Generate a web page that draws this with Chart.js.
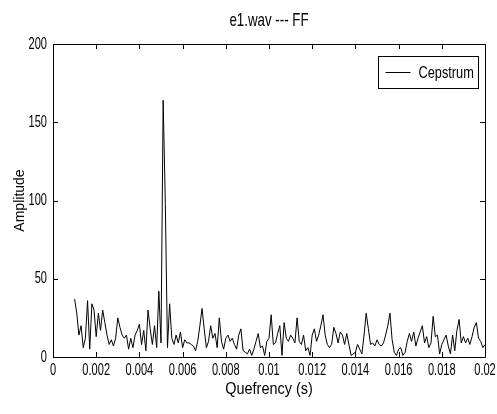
<!DOCTYPE html>
<html><head><meta charset="utf-8">
<script src="https://cdn.jsdelivr.net/npm/chart.js@4/dist/chart.umd.min.js"></script>
<style>html,body{margin:0;padding:0;background:#fff;}canvas{display:block;}</style>
</head><body>
<canvas id="c" width="497" height="414"></canvas>
<script>
const chartTitle = 'e1.wav --- FF';
const xAxisTitle = 'Quefrency (s)';
const yAxisTitle = 'Amplitude';
const seriesLabel = 'Cepstrum';
const xTickValues = [0,0.002,0.004,0.006,0.008,0.01,0.012,0.014,0.016,0.018,0.02];
const xTickLabels = ['0','0.002','0.004','0.006','0.008','0.01','0.012','0.014','0.016','0.018','0.02'];
const yTickValues = [0,50,100,150,200];
const yTickLabels = ['0','50','100','150','200'];
const quefrency = [
0.0010,0.0011,0.0012,0.0013,0.0014,0.0015,0.0016,0.0017,0.0018,0.0019,
0.0020,0.0021,0.0022,0.0023,0.0024,0.0025,0.0026,0.0027,0.0028,0.0029,
0.0030,0.0031,0.0032,0.0033,0.0034,0.0035,0.0036,0.0037,0.0038,0.0039,
0.0040,0.0041,0.0042,0.0043,0.0044,0.0045,0.0046,0.0047,0.0048,0.0049,
0.0050,0.0051,0.0052,0.0053,0.0054,0.0055,0.0056,0.0057,0.0058,0.0059,
0.0060,0.0061,0.0062,0.0063,0.0064,0.0065,0.0066,0.0067,0.0068,0.0069,
0.0070,0.0071,0.0072,0.0073,0.0074,0.0075,0.0076,0.0077,0.0078,0.0079,
0.0080,0.0081,0.0082,0.0083,0.0084,0.0085,0.0086,0.0087,0.0088,0.0089,
0.0090,0.0091,0.0092,0.0093,0.0094,0.0095,0.0096,0.0097,0.0098,0.0099,
0.0100,0.0101,0.0102,0.0103,0.0104,0.0105,0.0106,0.0107,0.0108,0.0109,
0.0110,0.0111,0.0112,0.0113,0.0114,0.0115,0.0116,0.0117,0.0118,0.0119,
0.0120,0.0121,0.0122,0.0123,0.0124,0.0125,0.0126,0.0127,0.0128,0.0129,
0.0130,0.0131,0.0132,0.0133,0.0134,0.0135,0.0136,0.0137,0.0138,0.0139,
0.0140,0.0141,0.0142,0.0143,0.0144,0.0145,0.0146,0.0147,0.0148,0.0149,
0.0150,0.0151,0.0152,0.0153,0.0154,0.0155,0.0156,0.0157,0.0158,0.0159,
0.0160,0.0161,0.0162,0.0163,0.0164,0.0165,0.0166,0.0167,0.0168,0.0169,
0.0170,0.0171,0.0172,0.0173,0.0174,0.0175,0.0176,0.0177,0.0178,0.0179,
0.0180,0.0181,0.0182,0.0183,0.0184,0.0185,0.0186,0.0187,0.0188,0.0189,
0.0190,0.0191,0.0192,0.0193,0.0194,0.0195,0.0196,0.0197,0.0198,0.0199,
0.0200];
const amplitude = [
37,28,14,20,6,12,36,5,34,30,
13,28,17,30,22,14,8,11,7,12,
25,19,14,12,14,5,12,6,14,17,
21,8,17,4,30,18,8,20,6,42,
9,164,98,6,34,12,8,14,9,16,
6,11,9,9,8,7,4,10,20,31,
18,6,10,20,12,15,6,25,10,5,
12,14,10,12,8,5,14,18,4,3,
2,5,1,5,10,15,6,7,1,10,
12,27,8,9,15,20,1,22,12,10,
14,12,9,25,10,8,14,4,6,1,
14,18,10,14,20,27,14,8,6,8,
19,15,9,16,14,8,15,8,1,2,
3,8,5,2,14,28,18,8,9,7,
11,8,7,9,14,20,28,11,3,1,
5,6,1,3,10,15,10,16,7,12,
16,20,9,13,6,9,26,13,14,2,
8,11,14,7,2,14,4,17,24,9,
13,9,12,8,13,19,22,12,10,6,
8];

const FONT = '"Liberation Sans", Arial, sans-serif';
Chart.defaults.color = '#000';

// MATLAB-style condensed lettering: horizontal squeeze of unrotated text
const canvas = document.getElementById('c');
const ctx2d = canvas.getContext('2d');
const origFillText = ctx2d.fillText.bind(ctx2d);
const squeezeFor = {};
squeezeFor[chartTitle] = 0.7;
squeezeFor[xAxisTitle] = 0.85;
squeezeFor[seriesLabel] = 0.75;
ctx2d.fillText = function (text, x, y, maxWidth) {
  const m = ctx2d.getTransform();
  if (Math.abs(m.b) > 1e-6 || Math.abs(m.c) > 1e-6) {
    return maxWidth === undefined ? origFillText(text, x, y) : origFillText(text, x, y, maxWidth);
  }
  const sq = squeezeFor[text] !== undefined ? squeezeFor[text] : 0.65;
  ctx2d.save();
  ctx2d.translate(x, y);
  ctx2d.scale(sq, 1);
  if (maxWidth === undefined) origFillText(text, 0, 0);
  else origFillText(text, 0, 0, maxWidth / sq);
  ctx2d.restore();
};

const boxPlugin = {
  id: 'matlabBox',
  afterDraw(chart) {
    const {ctx, chartArea: ca, scales: {x, y}} = chart;
    ctx.save();
    ctx.strokeStyle = '#000';
    ctx.lineWidth = 1;
    ctx.beginPath();
    ctx.rect(Math.round(ca.left) + 0.5, Math.round(ca.top) + 0.5, Math.round(ca.right - ca.left), Math.round(ca.bottom - ca.top));
    const tl = 5;
    xTickValues.forEach(v => {
      const px = Math.round(x.getPixelForValue(v)) + 0.5;
      ctx.moveTo(px, ca.bottom); ctx.lineTo(px, ca.bottom - tl);
      ctx.moveTo(px, ca.top); ctx.lineTo(px, ca.top + tl);
    });
    yTickValues.forEach(v => {
      const py = Math.round(y.getPixelForValue(v)) + 0.5;
      ctx.moveTo(ca.left, py); ctx.lineTo(ca.left + tl, py);
      ctx.moveTo(ca.right, py); ctx.lineTo(ca.right - tl, py);
    });
    ctx.stroke();
    // legend
    const bx = Math.round(ca.right - 107) + 0.5, by = Math.round(ca.top + 12) + 0.5, bw = 100, bh = 32;
    ctx.fillStyle = '#fff';
    ctx.fillRect(bx, by, bw, bh);
    ctx.strokeRect(bx, by, bw, bh);
    const ds = chart.data.datasets[0];
    ctx.beginPath();
    ctx.strokeStyle = ds.borderColor;
    ctx.moveTo(bx + 7, by + bh / 2); ctx.lineTo(bx + 32, by + bh / 2);
    ctx.stroke();
    ctx.fillStyle = '#000';
    ctx.font = '17px ' + FONT;
    ctx.textAlign = 'left';
    ctx.textBaseline = 'middle';
    ctx.fillText(ds.label, bx + 40, by + bh / 2 + 1);
    ctx.restore();
  }
};

new Chart(canvas, {
  type: 'line',
  data: {
    datasets: [{
      label: seriesLabel,
      data: quefrency.map((q, i) => ({x: q, y: amplitude[i]})),
      borderColor: '#000',
      borderWidth: 1,
      pointRadius: 0,
      tension: 0,
      fill: false
    }]
  },
  options: {
    responsive: false,
    animation: false,
    layout: {padding: {top: 0, right: 12, bottom: 0, left: 0}},
    plugins: {
      legend: {display: false},
      tooltip: {enabled: false},
      title: {
        display: true, text: chartTitle, fullSize: false,
        font: {family: FONT, size: 19, weight: 'normal'},
        padding: {top: 9.6, bottom: 11.6}, color: '#000'
      }
    },
    scales: {
      x: {
        type: 'linear', min: 0, max: 0.02,
        afterBuildTicks: s => { s.ticks = xTickValues.map(v => ({value: v})); },
        afterFit: s => { s.height = 57; s.paddingLeft = 0; s.paddingRight = 0; },
        grid: {display: false, drawTicks: false},
        border: {display: false},
        ticks: {
          autoSkip: false, maxRotation: 0, padding: 3,
          font: {family: FONT, size: 17},
          callback: (v, i) => xTickLabels[i]
        },
        title: {display: true, text: xAxisTitle, font: {family: FONT, size: 17}, padding: {top: 0, bottom: 14.8}}
      },
      y: {
        type: 'linear', min: 0, max: 200,
        afterBuildTicks: s => { s.ticks = yTickValues.map(v => ({value: v})); },
        afterFit: s => { s.width = 53; s.paddingTop = 0; s.paddingBottom = 0; },
        grid: {display: false, drawTicks: false},
        border: {display: false},
        ticks: {
          padding: 6,
          font: {family: FONT, size: 17},
          callback: (v, i) => yTickLabels[i]
        },
        title: {display: true, text: yAxisTitle, font: {family: FONT, size: 14}, padding: {top: 11.6, bottom: 0}}
      }
    }
  },
  plugins: [boxPlugin]
});
</script>
</body></html>
